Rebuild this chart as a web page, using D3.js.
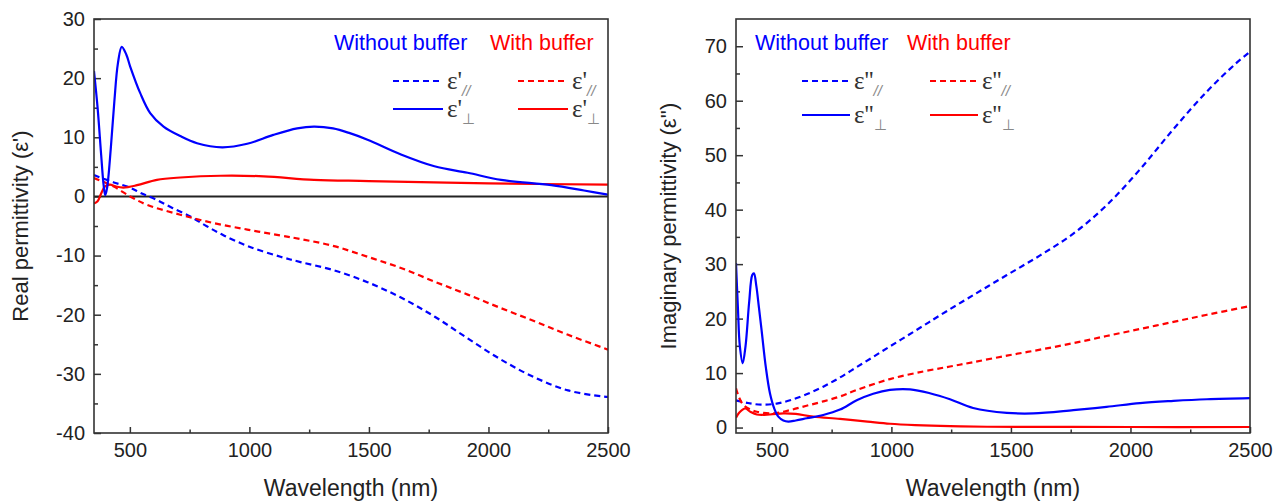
<!DOCTYPE html>
<html>
<head>
<meta charset="utf-8">
<script src="https://cdn.jsdelivr.net/npm/d3@7"></script>
<style>
  body { margin: 0; background: #fff; }
  text { font-family: "Liberation Sans", Arial, sans-serif; }
</style>
</head>
<body>
<div id="chart"></div>
<script>
// ---- data (wavelength nm, value) ----
// real part, without buffer
var realParNoBuf = [[350,3.6],[430,2.4],[500,1.5],[550,0.5],[613,-0.6],[680,-2.0],[753,-3.4],[820,-5.0],[893,-6.6],[1000,-8.5],[1130,-10.2],[1214,-11.1],[1354,-12.5],[1494,-14.5],[1634,-17.1],[1774,-20.3],[1913,-24.0],[2053,-27.6],[2193,-30.6],[2333,-32.8],[2473,-33.8],[2500,-33.9]];
var realPerpNoBuf = [[350,21.2],[365,15],[380,7],[390,2],[397,0.2],[405,1.5],[420,8],[435,16],[450,22.5],[466,25.3],[485,24],[501,22],[543,17.5],[585,14.1],[641,11.8],[711,10.2],[781,9.0],[886,8.3],[991,8.9],[1100,10.4],[1200,11.5],[1270,11.8],[1350,11.5],[1420,10.7],[1494,9.6],[1634,7.1],[1774,5.1],[1913,4.0],[2053,2.8],[2263,1.9],[2400,1.0],[2500,0.3]];
// real part, with buffer
var realParBuf = [[350,3.1],[431,1.7],[501,0],[571,-1.4],[711,-3.1],[850,-4.5],[991,-5.6],[1130,-6.6],[1214,-7.2],[1354,-8.4],[1494,-10.2],[1634,-12.1],[1774,-14.4],[1913,-16.6],[2053,-18.9],[2193,-21.1],[2333,-23.4],[2500,-25.9]];
var realPerpBuf = [[350,-1.2],[365,-0.8],[380,0.5],[396,1.7],[417,2.0],[440,1.7],[473,1.5],[530,1.9],[613,2.8],[711,3.2],[880,3.5],[1060,3.4],[1270,2.8],[1500,2.6],[2000,2.2],[2500,2.0]];
// imaginary part, without buffer
var imagParNoBuf = [[350,5.0],[400,4.5],[455,4.2],[520,4.4],[576,5.0],[645,6.1],[715,7.5],[785,9.2],[855,11.1],[925,13.0],[994,14.9],[1064,16.8],[1134,18.7],[1203,20.6],[1342,24.3],[1483,28.0],[1622,31.6],[1761,35.6],[1900,40.8],[2040,47.4],[2180,54.8],[2320,61.7],[2440,66.8],[2500,69.0]];
var imagPerpNoBuf = [[350,30.2],[358,22],[366,15],[378,11.8],[390,15],[405,23],[418,28],[425,28.3],[435,26],[446,22],[457,17.9],[475,11],[492,6.3],[510,3.5],[527,2.0],[548,1.3],[569,1.1],[600,1.3],[646,1.7],[715,2.3],[785,3.3],[855,5.0],[924,6.2],[994,6.9],[1078,7.0],[1161,6.3],[1245,5.2],[1342,3.6],[1483,2.7],[1594,2.6],[1761,3.2],[1900,3.8],[2040,4.5],[2180,4.9],[2320,5.2],[2500,5.4]];
// imaginary part, with buffer
var imagParBuf = [[350,7.2],[362,5.6],[380,4.2],[410,3.3],[437,2.9],[506,2.6],[576,3.2],[645,4.0],[715,4.8],[785,5.7],[855,6.9],[994,8.9],[1134,10.3],[1245,11.2],[1342,12.0],[1483,13.2],[1622,14.3],[1761,15.5],[1900,16.8],[2040,18.1],[2180,19.4],[2320,20.7],[2500,22.3]];
var imagPerpBuf = [[350,1.8],[365,2.8],[388,3.5],[410,2.9],[437,2.4],[492,2.4],[548,2.6],[600,2.5],[673,2.0],[785,1.6],[900,1.1],[994,0.7],[1100,0.45],[1245,0.25],[1400,0.15],[2000,0.1],[2500,0.1]];

var xTicks = [500, 1000, 1500, 2000, 2500];
var xMinor = [750, 1250, 1750, 2250];
var realTicks = [-40, -30, -20, -10, 0, 10, 20, 30];
var realMinor = [-35, -25, -15, -5, 5, 15, 25];
var imagTicks = [0, 10, 20, 30, 40, 50, 60, 70];
var imagMinor = [5, 15, 25, 35, 45, 55, 65];

var blue = "#0000ff", red = "#ff0000";

var svg = d3.select("#chart").append("svg")
    .attr("width", 1282)
    .attr("height", 501)
    .style("background", "#fff");

function drawPanel(opt) {
    var x = d3.scaleLinear().domain([350, 2500]).range([opt.left, opt.right]);
    var y = d3.scaleLinear().domain(opt.yDomain).range([433, 19]);
    var g = svg.append("g");

    // clip
    g.append("clipPath").attr("id", opt.id)
        .append("rect")
        .attr("x", opt.left).attr("y", 19)
        .attr("width", opt.right - opt.left).attr("height", 433 - 19);

    // x axis (ticks inward)
    var xa = g.append("g").attr("transform", "translate(0,433)")
        .call(d3.axisBottom(x).tickValues(xTicks).tickSize(-6).tickPadding(10).tickFormat(function(d) { return String(d); }));
    xa.select(".domain").remove();
    xa.selectAll("text").style("font-size", "20px").attr("fill", "#222")
        .attr("font-family", "Liberation Sans, Arial, sans-serif");
    xa.selectAll("line").attr("stroke", "#333").attr("stroke-width", 1.5);
    var xm = g.append("g").attr("transform", "translate(0,433)")
        .call(d3.axisBottom(x).tickValues(xMinor).tickSize(-3.5).tickFormat(""));
    xm.select(".domain").remove();
    xm.selectAll("line").attr("stroke", "#333").attr("stroke-width", 1.5);

    // y axis (ticks inward)
    var ya = g.append("g").attr("transform", "translate(" + opt.left + ",0)")
        .call(d3.axisLeft(y).tickValues(opt.yTicks).tickSize(-7).tickPadding(9).tickFormat(function(d) { return String(d); }));
    ya.select(".domain").remove();
    ya.selectAll("text").style("font-size", "20px").attr("fill", "#222")
        .attr("font-family", "Liberation Sans, Arial, sans-serif");
    ya.selectAll("line").attr("stroke", "#333").attr("stroke-width", 1.5);
    var ym = g.append("g").attr("transform", "translate(" + opt.left + ",0)")
        .call(d3.axisLeft(y).tickValues(opt.yMinor).tickSize(-4).tickFormat(""));
    ym.select(".domain").remove();
    ym.selectAll("line").attr("stroke", "#333").attr("stroke-width", 1.5);

    // zero line
    if (opt.zeroLine) {
        g.append("line")
            .attr("x1", opt.left).attr("x2", opt.right)
            .attr("y1", y(0)).attr("y2", y(0))
            .attr("stroke", "#222").attr("stroke-width", 2);
    }

    var line = d3.line()
        .x(function(d) { return x(d[0]); })
        .y(function(d) { return y(d[1]); })
        .curve(d3.curveCatmullRom.alpha(0.5));

    var lines = g.append("g").attr("clip-path", "url(#" + opt.id + ")");
    opt.series.forEach(function(s) {
        lines.append("path")
            .datum(s.data)
            .attr("fill", "none")
            .attr("stroke", s.color)
            .attr("stroke-width", 2.2)
            .attr("stroke-dasharray", s.dashed ? "6,4" : null)
            .attr("d", line);
    });

    // frame
    g.append("rect")
        .attr("x", opt.left).attr("y", 19)
        .attr("width", opt.right - opt.left).attr("height", 433 - 19)
        .attr("fill", "none").attr("stroke", "#333").attr("stroke-width", 1.6);

    // axis titles
    g.append("text")
        .attr("x", (opt.left + opt.right) / 2).attr("y", 496)
        .attr("text-anchor", "middle")
        .style("font-size", "23px").attr("fill", "#222")
        .text("Wavelength (nm)");
    g.append("text")
        .attr("transform", "translate(" + opt.titleX + ",226) rotate(-90)")
        .attr("text-anchor", "middle")
        .style("font-size", "22px").attr("fill", "#222")
        .text(opt.yTitle);

    // legend
    var lg = opt.legend;
    g.append("text").attr("x", lg.x1).attr("y", lg.headY)
        .style("font-size", "21.5px").attr("fill", blue).text("Without buffer");
    g.append("text").attr("x", lg.x2).attr("y", lg.headY)
        .style("font-size", "21.5px").attr("fill", red).text("With buffer");

    var rows = [
        {y: lg.row1, dashed: true, sub: "//", subStyle: "italic", color: blue, lx: lg.l1},
        {y: lg.row2, dashed: false, sub: "\u22A5", subStyle: "normal", color: blue, lx: lg.l1},
        {y: lg.row1, dashed: true, sub: "//", subStyle: "italic", color: red, lx: lg.l2},
        {y: lg.row2, dashed: false, sub: "\u22A5", subStyle: "normal", color: red, lx: lg.l2}
    ];
    rows.forEach(function(r) {
        g.append("line")
            .attr("x1", r.lx).attr("x2", r.lx + lg.len)
            .attr("y1", r.y).attr("y2", r.y)
            .attr("stroke", r.color).attr("stroke-width", 2.2)
            .attr("stroke-dasharray", r.dashed ? "6,4" : null);
        var t = g.append("text")
            .attr("x", r.lx + lg.len + 4).attr("y", r.y + 8)
            .attr("fill", "#333");
        t.append("tspan")
            .style("font-family", "Liberation Serif, Times New Roman, serif")
            .style("font-size", "25px")
            .text("\u03B5" + opt.prime);
        t.append("tspan")
            .attr("dy", 7)
            .style("font-size", "15px")
            .style("font-style", r.subStyle)
            .attr("fill", "#888")
            .text(r.sub);
    });
}

drawPanel({
    id: "clipReal", left: 94, right: 608,
    yDomain: [-40, 30], yTicks: realTicks, yMinor: realMinor,
    zeroLine: true, titleX: 28,
    yTitle: "Real permittivity (\u03B5')", prime: "'",
    series: [
        {data: realParNoBuf, color: blue, dashed: true},
        {data: realParBuf, color: red, dashed: true},
        {data: realPerpBuf, color: red, dashed: false},
        {data: realPerpNoBuf, color: blue, dashed: false}
    ],
    legend: {x1: 334, x2: 490, headY: 50, row1: 81, row2: 109, l1: 393, l2: 518, len: 50}
});

drawPanel({
    id: "clipImag", left: 736, right: 1250,
    yDomain: [-1, 75], yTicks: imagTicks, yMinor: imagMinor,
    zeroLine: false, titleX: 676,
    yTitle: "Imaginary permittivity (\u03B5'')", prime: "''",
    series: [
        {data: imagParNoBuf, color: blue, dashed: true},
        {data: imagParBuf, color: red, dashed: true},
        {data: imagPerpBuf, color: red, dashed: false},
        {data: imagPerpNoBuf, color: blue, dashed: false}
    ],
    legend: {x1: 755, x2: 907, headY: 50, row1: 81, row2: 115, l1: 802, l2: 930, len: 48}
});
</script>
</body>
</html>
